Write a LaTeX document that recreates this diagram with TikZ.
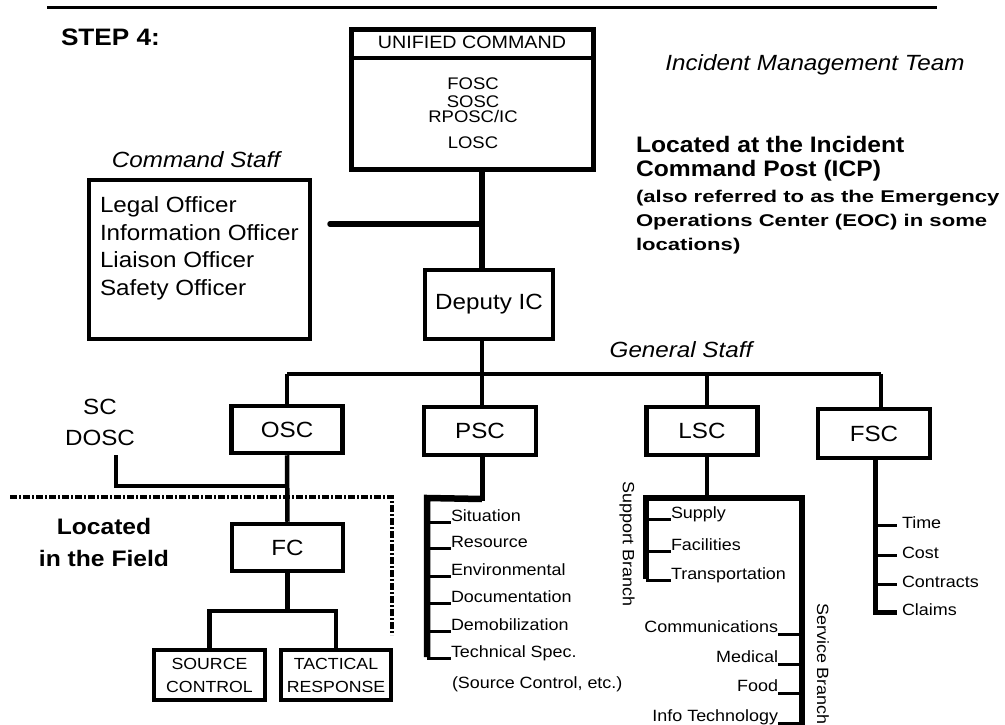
\documentclass[tikz,border=0pt]{standalone}
\usepackage{fontspec}
\setmainfont{Liberation Sans}[FakeStretch=1.1]
\newfontfamily\wideboldfont{Liberation Sans}[FakeStretch=1.3]
\usetikzlibrary{calc}
\newcommand\szMain{\fontsize{22}{25}\selectfont}
\newcommand\szList{\fontsize{16.3}{19}\selectfont}
\newcommand\szUC{\fontsize{16.8}{19}\selectfont}
\newcommand\szHead{\fontsize{17.9}{21}\selectfont}
\newcommand\szSub{\fontsize{16.1}{23}\selectfont}
\newcommand\szBold{\fontsize{22.4}{32}\selectfont\bfseries}
\newcommand\szStep{\fontsize{23.8}{27}\selectfont\bfseries}
\newcommand\szNote{\wideboldfont\fontsize{17}{24}\selectfont\bfseries}
\tikzset{
  box/.style={draw, line width=4.5pt, inner sep=0pt, align=center, font=\szMain},
  subbox/.style={box, font=\szSub},
  conn/.style={line width=4.5pt},
  thickconn/.style={line width=6.5pt, line join=miter},
  tickl/.style={line width=3pt},
  item/.style={inner sep=0pt, outer sep=0pt, font=\szList},
  lbl/.style={inner sep=0pt, outer sep=0pt, font=\szMain},
  note/.style={inner sep=0pt, outer sep=0pt, anchor=base west},
  dashdot/.style={line width=3.5pt, dash pattern=on 7pt off 2pt on 2pt off 2pt}
}
\begin{document}
\begin{tikzpicture}[x=1pt,y=-1pt]
\useasboundingbox (0,0) rectangle (1005,725);
% top rule
\coordinate (ruleL) at (47,8);
\coordinate (ruleR) at (937,8);
\draw[line width=3pt] (ruleL) -- (ruleR);
\node[note, font=\szStep] (step) at (61,46) {STEP 4:};

% Unified command
\node[draw, line width=5.5pt, minimum width=242pt, minimum height=140pt, inner sep=0pt] (uc) at (472.5,99.5) {};
\coordinate (ucsep) at (0,58);
\draw[line width=4pt] (uc.west |- ucsep) -- (uc.east |- ucsep);
\node[inner sep=0pt, anchor=base, font=\szHead] (uchead) at (472,49) {UNIFIED COMMAND};
\node[inner sep=0pt, anchor=base, font=\szUC] (fosc) at (473,90) {FOSC};
\node[inner sep=0pt, anchor=base, font=\szUC] (sosc) at (473,107) {SOSC};
\node[inner sep=0pt, anchor=base, font=\szUC] (rposc) at (473,123) {RPOSC/IC};
\node[inner sep=0pt, anchor=base, font=\szUC] (losc) at (473,148) {LOSC};

\node[lbl, anchor=base, font=\szMain\itshape] (imt) at (815,71) {Incident Management Team};
\node[note, font=\szBold] (loc1) at (636,153) {Located at the Incident};
\node[note, font=\szBold] (loc2) at (636,176) {Command Post (ICP)};
\node[note, font=\szNote] (loc3) at (636,202) {(also referred to as the Emergency};
\node[note, font=\szNote] (loc4) at (636,226) {Operations Center (EOC) in some};
\node[note, font=\szNote] (loc5) at (636,250) {locations)};

% Command staff
\node[lbl, anchor=base, font=\szMain\itshape] (cstitle) at (196,167) {Command Staff};
\node[draw, line width=4.5pt, minimum width=221pt, minimum height=159pt, inner sep=0pt] (cs) at (199.5,259.5) {};
\node[lbl, anchor=base west] (legal) at (100,212) {Legal Officer};
\node[lbl, anchor=base west] (info) at (100,240) {Information Officer};
\node[lbl, anchor=base west] (liaison) at (100,267) {Liaison Officer};
\node[lbl, anchor=base west] (safety) at (100,295) {Safety Officer};

% trunk
\coordinate (tk) at (482,0);
\node[box, minimum width=128pt, minimum height=69pt] (deputy) at (489,304.5) {Deputy IC};
\draw[line width=5.5pt] (uc.south -| tk) -- (deputy.north -| tk);
\coordinate (csend) at (330,224);
\draw[line width=5.5pt, line cap=round] (csend) -- (csend -| tk);

% General staff
\node[lbl, anchor=base, font=\szMain\itshape] (gstitle) at (681,357) {General Staff};
\node[box, minimum width=111pt, minimum height=47pt] (osc) at (287,429.5) {OSC};
\node[box, minimum width=112pt, minimum height=48pt] (psc) at (480,431) {PSC};
\node[box, minimum width=111pt, minimum height=48pt] (lsc) at (702,431) {LSC};
\node[box, minimum width=112pt, minimum height=49pt] (fsc) at (874,433.5) {FSC};
\coordinate (gsL) at (287,374);
\coordinate (gsR) at (881,374);
\draw[line width=4pt] (gsL) -- (gsR);
\draw[conn] (deputy.south -| tk) -- (psc.north -| tk);
\draw[line width=4pt] (gsL) -- (osc.north);
\coordinate (lscx) at (707,0);
\draw[line width=4pt] (gsL -| lscx) -- (lsc.north -| lscx);
\draw[line width=4pt] (gsR) -- (gsR |- fsc.north);

% SC / DOSC
\node[lbl, align=center, font=\fontsize{22}{31}\selectfont] (sc) at (100,422) {SC\\DOSC};
\coordinate (sctop) at (116,455);
\coordinate (scj) at (287,486);
\draw[line width=4.5pt] (sctop) |- (scj);

% Field
\node[box, minimum width=111pt, minimum height=47pt] (fc) at (287.5,547.5) {FC};
\draw[line width=4.5pt] (osc.south) -- (fc.north);
\node[lbl, align=center, font=\fontsize{22.4}{32}\selectfont\bfseries] (field) at (104,542) {Located\\in the Field};
\coordinate (fieldL) at (10,497);
\coordinate (fieldC) at (392,497);
\coordinate (fieldB) at (392,635);
\draw[dashdot] (fieldL) -- (fieldC) -- (fieldB);
\node[subbox, minimum width=111pt, minimum height=50pt] (src) at (209.5,675) {SOURCE\\CONTROL};
\node[subbox, minimum width=110pt, minimum height=50pt] (tac) at (336,675) {TACTICAL\\RESPONSE};
\coordinate (fcj) at (287.5,611);
\draw[line width=4.5pt] (fc.south) -- (fcj);
\draw[line width=4.5pt, line join=miter] (src.north) |- (fcj) -| (tac.north);

% PSC units
\coordinate (pscJ) at (427,498);
\node[item, anchor=base west] (sit) at (451,521) {Situation};
\node[item, anchor=base west] (res) at (451,547) {Resource};
\node[item, anchor=base west] (env) at (451,575) {Environmental};
\node[item, anchor=base west] (doc) at (451,602) {Documentation};
\node[item, anchor=base west] (dem) at (451,630) {Demobilization};
\node[item, anchor=base west] (tech) at (451,657) {Technical Spec.};
\node[item, anchor=base west] (srcnote) at (452,688) {(Source Control, etc.)};
\draw[line width=5pt, line join=miter] (psc.south -| tk) |- (pscJ);
\draw[thickconn] ([yshift=-1pt]pscJ -| tk) -- (pscJ) -- (pscJ |- tech.base);
\foreach \n in {sit,res,env,doc,dem,tech}
  \draw[tickl] ([yshift=-1pt]pscJ |- \n.base) -- ([yshift=-1pt]\n.base west);

% LSC units
\coordinate (lscJ) at (707,498);
\coordinate (supX) at (646,0);
\coordinate (serX) at (802,0);
\coordinate (serEnd) at (802,727);
\draw[line width=4.5pt] (lsc.south -| lscx) -- (lscJ);
\node[item, anchor=base west] (supply) at (671,518) {Supply};
\node[item, anchor=base west] (facil) at (671,550) {Facilities};
\node[item, anchor=base west] (trans) at (671,579) {Transportation};
\draw[thickconn] (supX |- trans.base) -- (supX |- lscJ) -- (serX |- lscJ) -- (serEnd);
\foreach \n in {supply,facil,trans}
  \draw[tickl] ([yshift=-1pt]supX |- \n.base) -- ([yshift=-1pt]\n.base west);
\node[item, rotate=-90] (supb) at (627,544) {Support Branch};
\node[item, rotate=-90] (serb) at (823,664) {Service Branch};
\node[item, anchor=base east] (comm) at (778,632) {Communications};
\node[item, anchor=base east] (med) at (778,662) {Medical};
\node[item, anchor=base east] (food) at (778,691) {Food};
\node[item, anchor=base east] (infot) at (778,721) {Info Technology};
\foreach \n in {comm,med,food,infot}
  \draw[tickl] ([yshift=-2pt]\n.base east) -- ([yshift=-2pt]serX |- \n.base);

% FSC units
\coordinate (fscX) at (875,0);
\node[item, anchor=west] (time) at (902,523) {Time};
\node[item, anchor=west] (cost) at (902,553) {Cost};
\node[item, anchor=west] (contr) at (902,582) {Contracts};
\node[item, anchor=west] (claims) at (902,610) {Claims};
\draw[line width=5pt, line join=miter] (fsc.south -| fscX) -- ([yshift=-2pt]fscX |- claims.west) -- ([xshift=-5pt, yshift=-2pt]claims.west);
\foreach \n in {time,cost,contr}
  \draw[tickl] ([yshift=-2pt]fscX |- \n.west) -- ([xshift=-5pt, yshift=-2pt]\n.west);
\end{tikzpicture}
\end{document}
